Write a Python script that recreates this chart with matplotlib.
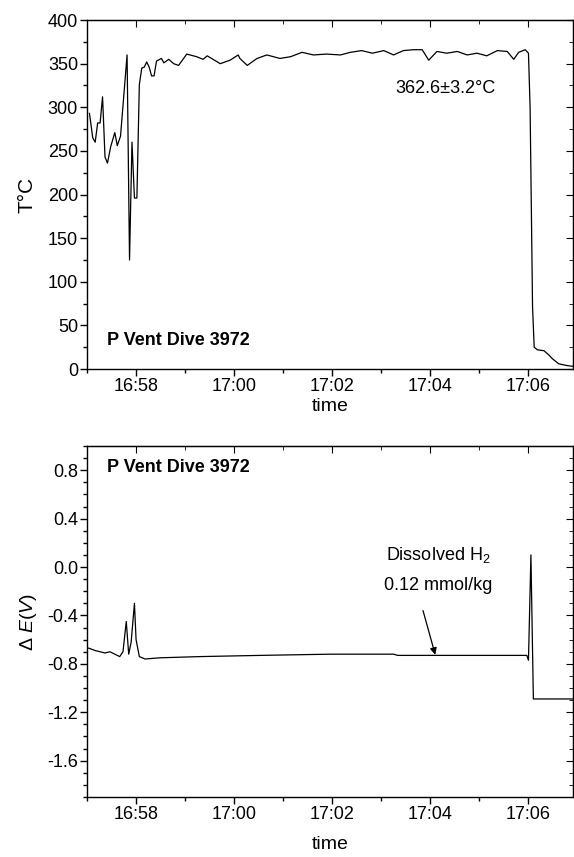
import numpy as np
import pandas as pd
import matplotlib
matplotlib.use("Agg")
import matplotlib.pyplot as plt
import matplotlib.dates as mdates
from matplotlib.ticker import MultipleLocator, FormatStrFormatter

plt.rcParams['font.family'] = ['Liberation Sans', 'DejaVu Sans']
plt.rcParams['mathtext.fontset'] = 'custom'
plt.rcParams['mathtext.rm'] = 'Liberation Sans'
plt.rcParams['mathtext.it'] = 'Liberation Sans:italic'
plt.rcParams['axes.unicode_minus'] = False

# =========================
# Data
# =========================
day = "2000-01-01 "

temp_time = [
    "16:57:03", "16:57:07", "16:57:10", "16:57:13", "16:57:16", "16:57:19",
    "16:57:22", "16:57:25", "16:57:29", "16:57:34", "16:57:37", "16:57:41",
    "16:57:49", "16:57:52", "16:57:55", "16:57:58", "16:58:01", "16:58:04",
    "16:58:07", "16:58:10", "16:58:13", "16:58:16", "16:58:19", "16:58:22",
    "16:58:25", "16:58:31", "16:58:34", "16:58:40", "16:58:46", "16:58:52",
    "16:59:02", "16:59:14", "16:59:22", "16:59:27", "16:59:43", "16:59:55",
    "17:00:05", "17:00:07", "17:00:16", "17:00:28", "17:00:40", "17:00:56",
    "17:01:09", "17:01:23", "17:01:37", "17:01:53", "17:02:10", "17:02:22",
    "17:02:36", "17:02:49", "17:03:03", "17:03:15", "17:03:27", "17:03:39",
    "17:03:50", "17:03:58", "17:04:08", "17:04:20", "17:04:33", "17:04:45",
    "17:04:57", "17:05:09", "17:05:22", "17:05:34", "17:05:42", "17:05:48",
    "17:05:56", "17:06:00", "17:06:02", "17:06:05", "17:06:07", "17:06:11",
    "17:06:19", "17:06:25", "17:06:29", "17:06:37", "17:06:47", "17:06:55",
]
temp_val = [
    293, 265, 260, 282, 282, 312,
    243, 236, 255, 271, 256, 267,
    360, 125, 260, 196, 196, 326,
    345, 346, 352, 346, 336, 336,
    353, 356, 351, 355, 350, 348,
    361, 358, 355, 359, 350, 354,
    360, 356, 348, 356, 360, 356,
    358, 363, 360, 361, 360, 363,
    365, 362, 365, 360, 365, 366,
    366, 354, 364, 362, 364, 360,
    362, 359, 365, 364, 355, 363,
    366, 362, 300, 71, 25, 22,
    21, 16, 12, 6, 4, 3,
]

de_time = [
    "16:57:02", "16:57:10", "16:57:16", "16:57:22", "16:57:28", "16:57:34",
    "16:57:40", "16:57:44", "16:57:48", "16:57:51", "16:57:54", "16:57:58",
    "16:58:00", "16:58:04", "16:58:11", "16:58:29", "16:59:18", "17:00:32",
    "17:01:58", "17:03:15", "17:03:20", "17:05:58", "17:06:00", "17:06:03",
    "17:06:06", "17:06:55",
]
de_val = [
    -0.67, -0.69, -0.70, -0.71, -0.70, -0.72,
    -0.74, -0.70, -0.45, -0.72, -0.62, -0.30,
    -0.60, -0.74, -0.76, -0.75, -0.74, -0.73,
    -0.72, -0.72, -0.73, -0.73, -0.77, 0.10,
    -1.09, -1.09,
]

t_temp = pd.to_datetime([day + s for s in temp_time])
t_de = pd.to_datetime([day + s for s in de_time])
x_start = pd.Timestamp(day + "16:57:00")
x_end = pd.Timestamp(day + "17:06:55")

# =========================
# Figure
# =========================
fig = plt.figure(figsize=(5.74, 8.57), dpi=100)
ax1 = fig.add_axes([0.1516, 0.5694, 0.8474, 0.4072])
ax2 = fig.add_axes([0.1516, 0.0700, 0.8474, 0.4096])

ax1.plot(t_temp, temp_val, color='black', linewidth=0.9)
ax2.plot(t_de, de_val, color='black', linewidth=0.9)

ax1.set_ylim(0, 400)
ax1.yaxis.set_major_locator(MultipleLocator(50))
ax1.yaxis.set_minor_locator(MultipleLocator(25))
ax1.set_ylabel("T°C", fontsize=15, labelpad=8)

ax2.set_ylim(-1.9, 1.0)
ax2.yaxis.set_major_locator(MultipleLocator(0.4))
ax2.yaxis.set_minor_locator(MultipleLocator(0.1))
ax2.yaxis.set_major_formatter(FormatStrFormatter('%.1f'))
ax2.set_ylabel(r"$\Delta\ \mathit{E(V)}$", fontsize=14, labelpad=6)

for ax in [ax1, ax2]:
    ax.set_xlim(x_start, x_end)
    ax.xaxis.set_major_locator(mdates.MinuteLocator(byminute=range(0, 60, 2)))
    ax.xaxis.set_minor_locator(mdates.MinuteLocator())
    ax.xaxis.set_major_formatter(mdates.DateFormatter('%H:%M'))
    ax.tick_params(which='major', direction='out', length=5, width=1,
                   labelsize=13, pad=1.5)
    ax.tick_params(which='minor', direction='out', length=3, width=1)
    for sp in ax.spines.values():
        sp.set_linewidth(1)

    # inward ticks on top and right
    top = ax.secondary_xaxis('top')
    top.xaxis.set_major_locator(mdates.MinuteLocator(byminute=range(0, 60, 2)))
    top.xaxis.set_minor_locator(mdates.MinuteLocator())
    top.tick_params(which='major', direction='in', length=5, labeltop=False)
    top.tick_params(which='minor', direction='in', length=3)
    right = ax.secondary_yaxis('right')
    right.yaxis.set_major_locator(ax.yaxis.get_major_locator())
    right.yaxis.set_minor_locator(ax.yaxis.get_minor_locator())
    right.tick_params(which='major', direction='in', length=5, labelright=False)
    right.tick_params(which='minor', direction='in', length=3)

ax1.set_xlabel("time", fontsize=14, labelpad=2)
ax2.set_xlabel("time", fontsize=14, labelpad=9)

# =========================
# Annotations
# =========================
ax1.text(0.041, 0.083, "P Vent Dive 3972", transform=ax1.transAxes,
         fontsize=13, fontweight='bold', va='center', ha='left')
ax1.text(pd.Timestamp(day + "17:04:18"), 322, "362.6±3.2°C",
         fontsize=13, ha='center', va='center')

ax2.text(0.041, 0.94, "P Vent Dive 3972", transform=ax2.transAxes,
         fontsize=13, fontweight='bold', va='center', ha='left')
ax2.text(pd.Timestamp(day + "17:04:10"), 0.10, r"Dissolved H$_2$",
         fontsize=13, ha='center', va='center')
ax2.text(pd.Timestamp(day + "17:04:09"), -0.15, "0.12 mmol/kg",
         fontsize=13, ha='center', va='center')
ax2.annotate("", xy=(pd.Timestamp(day + "17:04:06"), -0.725),
             xytext=(pd.Timestamp(day + "17:03:51"), -0.36),
             arrowprops=dict(arrowstyle='-|>', color='black', lw=0.9,
                             mutation_scale=10, shrinkA=0, shrinkB=0))

fig.savefig("out.png", dpi=100)
